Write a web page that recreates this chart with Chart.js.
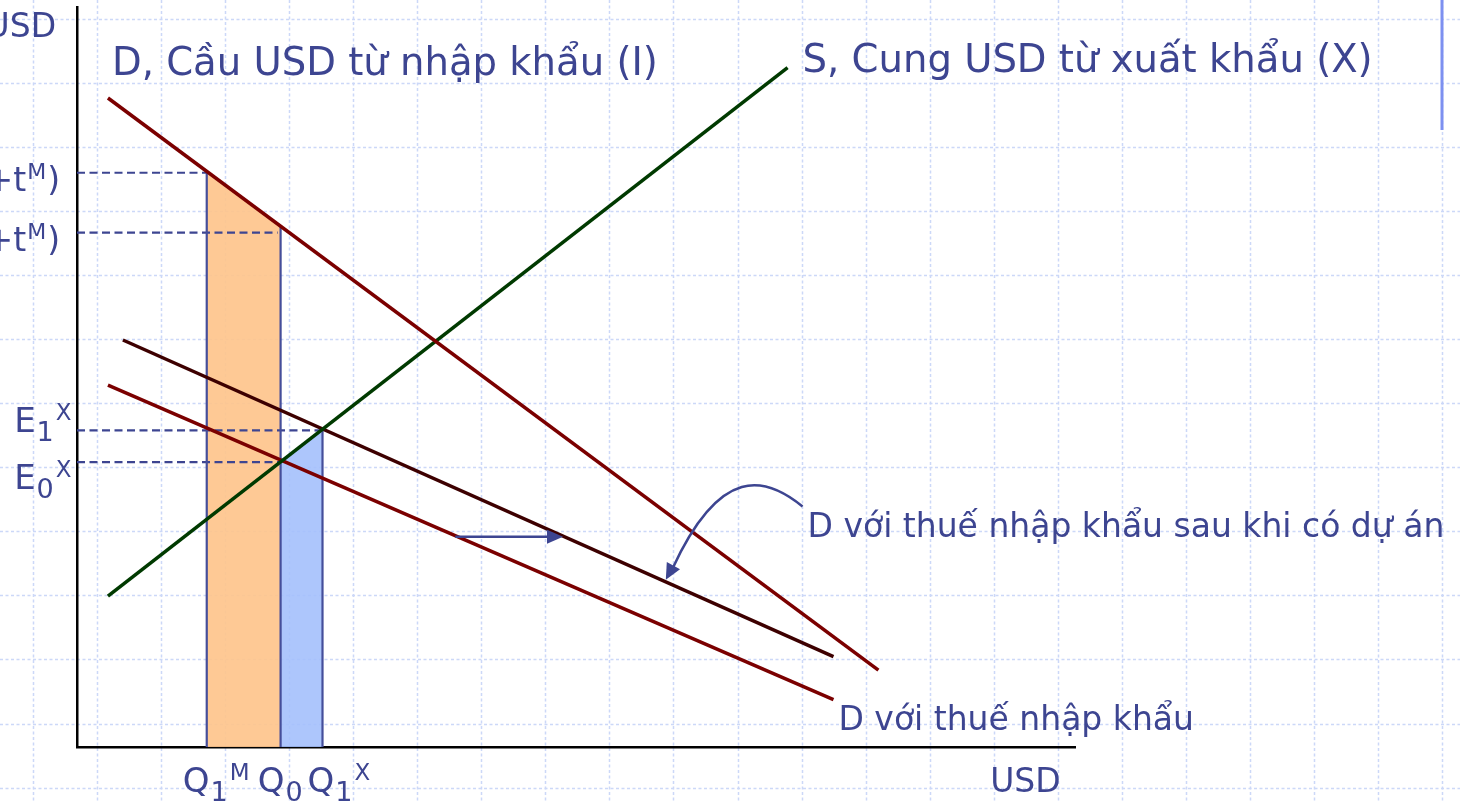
<!DOCTYPE html>
<html>
<head>
<meta charset="utf-8">
<script src="https://cdn.jsdelivr.net/npm/chart.js"></script>
<style>
  html, body { margin: 0; padding: 0; background: #fff; overflow: hidden; }
</style>
</head>
<body>
<canvas id="myChart" width="1460" height="803"></canvas>
<script>
// axis ranges (arbitrary units)
const xMax = 100;
const yMax = 100;

// line endpoints
const demandX = [3.1, 80.3];
const demandY = [87.7, 10.4];
const supplyX = [3.1, 71.2];
const supplyY = [20.4, 91.8];
const tariffX = [3.1, 75.8];
const tariffY = [48.9, 6.4];
const projectX = [4.6, 75.8];
const projectY = [55.0, 12.2];

// quantities on the x axis
const qValues = [13.0, 20.4, 24.6];
const qTops = [77.6, 70.3, 42.8];
const qLabels = [['Q', '1', 'M'], ['Q', '0', ''], ['Q', '1', 'X']];
const qLabelX = [10.6, 18.1, 23.1];

// price levels on the y axis
const pLevels = [77.6, 69.5];
const pEnds = [13.0, 20.1];
const eLevels = [42.8, 38.5];
const eEnds = [24.6, 20.4];
const eLabels = [['E', '1', 'X'], ['E', '0', 'X']];
const eLabelY = [42.6, 34.8];

// shaded areas
const orangeX = [13.0, 20.4];
const orangeY = [77.6, 70.3];
const blueX = [20.4, 24.6];
const blueY = [38.5, 42.8];

const textColor = '#3d4591';
const markColor = '#454e9a';
const FONT = '"DejaVu Sans", sans-serif';

function seg(xs, ys) {
  return xs.map((x, i) => ({ x: x, y: ys[i] }));
}

function line(data, color, width, extra) {
  return Object.assign({
    data: data,
    showLine: true,
    borderColor: color,
    borderWidth: width,
    pointRadius: 0,
    fill: false,
    tension: 0,
    order: 1
  }, extra || {});
}

const datasets = [
  line(seg(demandX, demandY), '#7b0000', 3.5),
  line(seg(supplyX, supplyY), '#003a00', 3.5),
  line(seg(tariffX, tariffY), '#7b0000', 3.5),
  line(seg(projectX, projectY), '#3d0000', 3.5)
];

qValues.forEach((q, i) => {
  datasets.push(line([{ x: q, y: 0 }, { x: q, y: qTops[i] }], markColor, 2.2, { order: 2 }));
});
pLevels.forEach((p, i) => {
  datasets.push(line([{ x: 0, y: p }, { x: pEnds[i], y: p }], textColor, 2.2, { borderDash: [8, 4.5], order: 2 }));
});
eLevels.forEach((e, i) => {
  datasets.push(line([{ x: 0, y: e }, { x: eEnds[i], y: e }], textColor, 2.2, { borderDash: [8, 4.5], order: 2 }));
});

datasets.push(line(seg(orangeX, orangeY), 'rgba(0,0,0,0)', 0,
  { fill: 'origin', backgroundColor: 'rgba(254,196,140,0.92)', order: 5 }));
datasets.push(line(seg(blueX, blueY), 'rgba(0,0,0,0)', 0,
  { fill: 'origin', backgroundColor: 'rgba(164,192,252,0.9)', order: 5 }));

// dashed paper grid behind everything
const paperPlugin = {
  id: 'paper',
  beforeDraw(chart) {
    const { ctx, width, height } = chart;
    ctx.save();
    ctx.fillStyle = '#fff';
    ctx.fillRect(0, 0, width, height);
    ctx.strokeStyle = '#ccd8f8';
    ctx.lineWidth = 1.5;
    ctx.setLineDash([3, 2.5]);
    for (let gx = 33; gx < width; gx += 64.05) {
      ctx.beginPath();
      ctx.moveTo(Math.round(gx) + 0.5, 0);
      ctx.lineTo(Math.round(gx) + 0.5, height);
      ctx.stroke();
    }
    for (let gy = 19; gy < height; gy += 64.05) {
      ctx.beginPath();
      ctx.moveTo(0, Math.round(gy) + 0.5);
      ctx.lineTo(width, Math.round(gy) + 0.5);
      ctx.stroke();
    }
    ctx.setLineDash([]);
    ctx.strokeStyle = '#7d90f0';
    ctx.lineWidth = 3;
    ctx.beginPath();
    ctx.moveTo(1442, 0);
    ctx.lineTo(1442, 130);
    ctx.stroke();
    ctx.restore();
  }
};

// text with subscript / superscript
function markText(ctx, left, base, parts, size) {
  const [main, sub, sup] = parts;
  ctx.font = size + 'px ' + FONT;
  ctx.fillText(main, left, base);
  let cx = left + ctx.measureText(main).width + 1;
  if (sub) {
    ctx.font = Math.round(size * 0.8) + 'px ' + FONT;
    ctx.fillText(sub, cx, base + size * 0.26);
    cx += ctx.measureText(sub).width + 2;
  }
  if (sup) {
    ctx.font = Math.round(size * 0.68) + 'px ' + FONT;
    ctx.fillText(sup, cx, base - size * 0.36);
  }
}

function arrowHead(ctx, tx, ty, fx, fy, len, half) {
  const a = Math.atan2(ty - fy, tx - fx);
  ctx.beginPath();
  ctx.moveTo(tx, ty);
  ctx.lineTo(tx - len * Math.cos(a) + half * Math.sin(a), ty - len * Math.sin(a) - half * Math.cos(a));
  ctx.lineTo(tx - len * Math.cos(a) - half * Math.sin(a), ty - len * Math.sin(a) + half * Math.cos(a));
  ctx.closePath();
  ctx.fill();
}

const labelPlugin = {
  id: 'labels',
  afterDatasetsDraw(chart) {
    const { ctx } = chart;
    const sx = chart.scales.x, sy = chart.scales.y;
    const px = v => sx.getPixelForValue(v);
    const py = v => sy.getPixelForValue(v);

    ctx.save();
    ctx.fillStyle = textColor;
    ctx.strokeStyle = textColor;
    ctx.textBaseline = 'alphabetic';

    ctx.font = '38.6px ' + FONT;
    ctx.fillText('D, Cầu USD từ nhập khẩu (I)', px(3.5), py(90.8));
    ctx.fillText('S, Cung USD từ xuất khẩu (X)', px(72.7), py(91.2));

    ctx.font = '33px ' + FONT;
    ctx.fillText('D với thuế nhập khẩu sau khi có dự án', px(73.2), py(28.4));
    ctx.fillText('D với thuế nhập khẩu', px(76.3), py(2.3));
    ctx.fillText('USD', px(91.5), py(-6.1));
    ctx.textAlign = 'right';
    ctx.fillText('USD', px(-2.1), py(95.9));
    ctx.textAlign = 'left';

    // cut-off price labels on the left edge
    pLevels.forEach(p => {
      const base = py(p) + 18;
      ctx.font = '33px ' + FONT;
      const w1 = ctx.measureText('+t').width;
      ctx.font = '22px ' + FONT;
      const w2 = ctx.measureText('M').width;
      ctx.font = '33px ' + FONT;
      const w3 = ctx.measureText(')').width;
      let left = px(-1.7) - (w1 + w2 + w3 + 2);
      ctx.fillText('+t', left, base);
      ctx.font = '22px ' + FONT;
      ctx.fillText('M', left + w1 + 1, base - 12);
      ctx.font = '33px ' + FONT;
      ctx.fillText(')', left + w1 + w2 + 2, base);
    });

    eLabels.forEach((parts, i) => markText(ctx, px(-6.3), py(eLabelY[i]), parts, 34));
    qLabels.forEach((parts, i) => markText(ctx, px(qLabelX[i]), py(-6.1), parts, 34));

    // shift arrow
    ctx.lineWidth = 2.5;
    ctx.beginPath();
    ctx.moveTo(px(37.9), py(28.4));
    ctx.lineTo(px(47.2), py(28.4));
    ctx.stroke();
    arrowHead(ctx, px(48.7), py(28.4), px(37.9), py(28.4), 16, 7);

    // curved pointer to the shifted demand line
    ctx.beginPath();
    ctx.moveTo(px(72.7), py(32.5));
    ctx.bezierCurveTo(px(69.0), py(36.6), px(64.5), py(38.2), px(59.7), py(24.2));
    ctx.stroke();
    arrowHead(ctx, px(59.0), py(22.6), px(60.2), py(25.6), 16, 7.5);

    ctx.restore();
  }
};

new Chart(document.getElementById('myChart'), {
  type: 'scatter',
  data: { datasets: datasets },
  options: {
    responsive: false,
    animation: false,
    events: [],
    layout: { padding: { left: 77, right: 385, top: 7, bottom: 56 } },
    plugins: {
      legend: { display: false },
      tooltip: { enabled: false }
    },
    scales: {
      x: {
        type: 'linear', min: 0, max: xMax,
        grid: { display: false, drawTicks: false },
        ticks: { display: false },
        border: { display: true, color: '#000', width: 2.5 }
      },
      y: {
        type: 'linear', min: 0, max: yMax,
        grid: { display: false, drawTicks: false },
        ticks: { display: false },
        border: { display: true, color: '#000', width: 2.5 }
      }
    }
  },
  plugins: [paperPlugin, labelPlugin]
});
</script>
</body>
</html>
